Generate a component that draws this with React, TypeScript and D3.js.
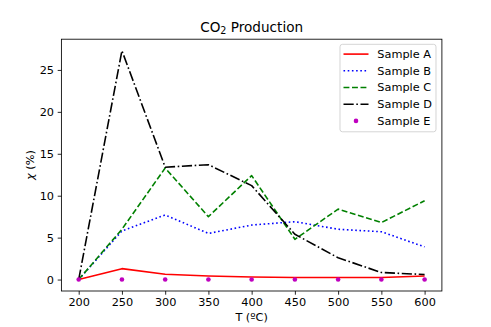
import React, { useEffect, useRef } from "react";
import * as d3 from "d3";

// temperatures (ºC)
const temps = [200, 250, 300, 350, 400, 450, 500, 550, 600];

// CO2 conversion values (%) per sample
const sampleA = [0, 1.3, 0.63, 0.43, 0.31, 0.25, 0.24, 0.25, 0.43];
const sampleB = [0, 5.8, 7.7, 5.5, 6.5, 6.9, 6.0, 5.7, 3.9];
const sampleC = [0, 6.0, 13.3, 7.5, 12.4, 4.8, 8.4, 6.8, 9.4];
const sampleD = [0, 27.3, 13.4, 13.7, 11.2, 5.4, 2.6, 0.84, 0.6];
const sampleE = [0, 0, 0, 0, 0, 0, 0, 0, 0];

const xTicks = [200, 250, 300, 350, 400, 450, 500, 550, 600];
const yTicks = [0, 5, 10, 15, 20, 25];

const seriesNames = ["Sample A", "Sample B", "Sample C", "Sample D", "Sample E"];

function App() {
  const svgRef = useRef<SVGSVGElement>(null);
  const W = 491;
  const H = 327;
  const margin = { top: 39.2, right: 49.1, bottom: 36, left: 61.4 };

  useEffect(() => {
    const root = d3.select(svgRef.current);
    root.selectAll("*").remove();
    const font = "DejaVu Sans, sans-serif";
    const fs = "11.3px";

    const series = [
      { name: seriesNames[0], values: sampleA, color: "#ff0000", dash: null, kind: "line" },
      { name: seriesNames[1], values: sampleB, color: "#0000ff", dash: "1.6,2.6", kind: "line" },
      { name: seriesNames[2], values: sampleC, color: "#008000", dash: "5.9,2.6", kind: "line" },
      { name: seriesNames[3], values: sampleD, color: "#000000", dash: "10.2,2.6,1.6,2.6", kind: "line" },
      { name: seriesNames[4], values: sampleE, color: "#bf00bf", dash: null, kind: "dot" },
    ];

    const allY = series.flatMap((s) => s.values);
    const yMin = d3.min(allY)!;
    const yMax = d3.max(allY)!;
    const yPad = (yMax - yMin) * 0.05;
    const xMin = d3.min(temps)!;
    const xMax = d3.max(temps)!;
    const xPad = (xMax - xMin) * 0.05;

    const x = d3
      .scaleLinear()
      .domain([xMin - xPad, xMax + xPad])
      .range([margin.left, W - margin.right]);
    const y = d3
      .scaleLinear()
      .domain([yMin - yPad, yMax + yPad])
      .range([H - margin.bottom, margin.top]);

    const g = root.append("g");

    // lines
    series
      .filter((s) => s.kind === "line")
      .forEach((s) => {
        const line = d3
          .line<number>()
          .x((_, i) => x(temps[i]))
          .y((d) => y(d));
        g.append("path")
          .attr("d", line(s.values))
          .attr("fill", "none")
          .attr("stroke", s.color)
          .attr("stroke-width", 1.6)
          .attr("stroke-linejoin", "round")
          .attr("stroke-dasharray", s.dash);
      });

    // markers
    series
      .filter((s) => s.kind === "dot")
      .forEach((s) => {
        g.selectAll(null)
          .data(s.values)
          .enter()
          .append("circle")
          .attr("cx", (_, i) => x(temps[i]))
          .attr("cy", (d) => y(d))
          .attr("r", 2.3)
          .attr("fill", s.color);
      });

    // frame
    root
      .append("rect")
      .attr("x", margin.left)
      .attr("y", margin.top)
      .attr("width", W - margin.left - margin.right)
      .attr("height", H - margin.top - margin.bottom)
      .attr("fill", "none")
      .attr("stroke", "#000")
      .attr("stroke-width", 0.85);

    // axes
    const xAxis = root
      .append("g")
      .attr("transform", `translate(0,${H - margin.bottom})`)
      .call(d3.axisBottom(x).tickValues(xTicks).tickSize(3.7).tickPadding(3.7));
    const yAxis = root
      .append("g")
      .attr("transform", `translate(${margin.left},0)`)
      .call(d3.axisLeft(y).tickValues(yTicks).tickSize(3.7).tickPadding(3.7));
    [xAxis, yAxis].forEach((a) => {
      a.select(".domain").remove();
      a.selectAll("line").attr("stroke", "#000").attr("stroke-width", 0.85);
      a.selectAll("text")
        .attr("fill", "#000")
        .style("font-family", font)
        .style("font-size", fs);
    });

    // title
    const title = root
      .append("text")
      .attr("x", (margin.left + W - margin.right) / 2)
      .attr("y", 31.5)
      .attr("text-anchor", "middle")
      .style("font-family", font)
      .style("font-size", "13.6px");
    title.append("tspan").text("CO");
    title.append("tspan").attr("dy", 2.7).style("font-size", "9.6px").text("2");
    title.append("tspan").attr("dy", -2.7).text(" Production");

    // axis labels
    root
      .append("text")
      .attr("x", (margin.left + W - margin.right) / 2)
      .attr("y", 321)
      .attr("text-anchor", "middle")
      .style("font-family", font)
      .style("font-size", fs)
      .text("T (ºC)");
    const yl = root
      .append("text")
      .attr("transform", `translate(34,${(margin.top + H - margin.bottom) / 2}) rotate(-90)`)
      .attr("text-anchor", "middle")
      .style("font-family", font)
      .style("font-size", fs);
    yl.append("tspan").style("font-style", "italic").text("χ");
    yl.append("tspan").text(" (%)");

    // legend
    const lx = 340;
    const ly = 44.3;
    const leg = root.append("g");
    leg
      .append("rect")
      .attr("x", lx)
      .attr("y", ly)
      .attr("width", 96)
      .attr("height", 87.5)
      .attr("rx", 2.5)
      .attr("fill", "#fff")
      .attr("fill-opacity", 0.8)
      .attr("stroke", "#cccccc")
      .attr("stroke-width", 0.85);
    series.forEach((s, i) => {
      const cy = ly + 9.8 + i * 16.7;
      if (s.kind === "line") {
        leg
          .append("line")
          .attr("x1", lx + 3.5)
          .attr("x2", lx + 28.5)
          .attr("y1", cy)
          .attr("y2", cy)
          .attr("stroke", s.color)
          .attr("stroke-width", 1.6)
          .attr("stroke-dasharray", s.dash);
      } else {
        leg
          .append("circle")
          .attr("cx", lx + 16)
          .attr("cy", cy)
          .attr("r", 2.3)
          .attr("fill", s.color);
      }
      leg
        .append("text")
        .attr("x", lx + 37.3)
        .attr("y", cy)
        .attr("dy", "0.35em")
        .style("font-family", font)
        .style("font-size", fs)
        .text(s.name);
    });
  }, []);

  return (
    <svg
      ref={svgRef}
      width={W}
      height={H}
      style={{ position: "absolute", left: 0, top: 0, background: "#fff" }}
    />
  );
}

export default App;
